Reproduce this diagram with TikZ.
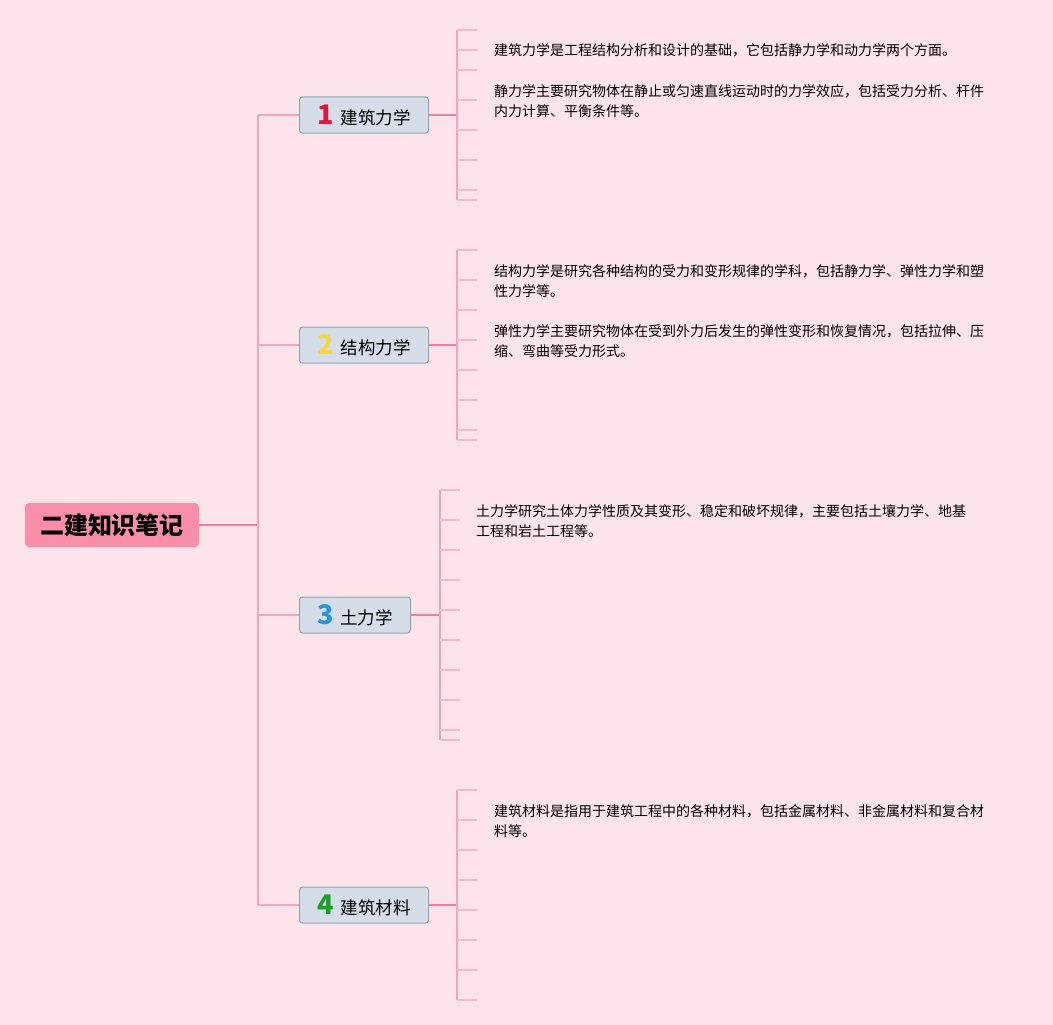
\documentclass[tikz,border=0pt]{standalone}
\usepackage{fontspec}
\setmainfont{Noto Sans CJK SC}
\usetikzlibrary{positioning}
\definecolor{bgpink}{HTML}{FDE4EB}
\definecolor{rootpink}{HTML}{F98EA8}
\definecolor{topicfill}{HTML}{D5DEE8}
\definecolor{topicedge}{HTML}{8FA8AA}
\definecolor{trunkpink}{HTML}{F4A6BD}
\definecolor{stempink}{HTML}{F27F9E}
\definecolor{barpink}{HTML}{F3A3BB}
\definecolor{tickpink}{HTML}{F6B8CA}
\definecolor{numred}{HTML}{E0163C}
\definecolor{numyellow}{HTML}{F6D44A}
\definecolor{numblue}{HTML}{2497DF}
\definecolor{numgreen}{HTML}{1E9C2C}

\newcommand{\topicnum}[2]{{\color{#1}\fontsize{27}{27}\selectfont\bfseries #2}\hspace{7pt}}

\tikzset{
  rootbox/.style={fill=rootpink, rounded corners=4pt, minimum width=174pt, minimum height=44pt, inner sep=0pt, font=\fontsize{24}{28}\selectfont\bfseries},
  topicbox/.style={draw=topicedge, line width=1pt, fill=topicfill, rounded corners=3pt, minimum height=36pt, inner xsep=0pt, inner ysep=0pt, anchor=west, font=\fontsize{17.5}{20}\selectfont},
  notetext/.style={anchor=west, inner sep=0pt, align=left, font=\fontsize{14}{20}\selectfont},
  trunk/.style={draw=trunkpink, line width=1.5pt},
  stem/.style={draw=stempink, line width=2pt},
  bracketbar/.style={draw=barpink, line width=1.6pt},
  brackettick/.style={draw=tickpink, line width=1.5pt},
}

\begin{document}
\begin{tikzpicture}[x=1pt, y=-1pt]
        \fill [bgpink] (0,0) rectangle (1053,1025);
        \useasboundingbox (0,0) rectangle (1053,1025);

        % root and topics
        \node [rootbox] (root) at (112,525) { 二建知识笔记 };
        \node [topicbox, minimum width=129pt] (t1) at (299,115) { \topicnum{numred}{1}建筑力学 };
        \node [topicbox, minimum width=129pt] (t2) at (299,345) { \topicnum{numyellow}{2}结构力学 };
        \node [topicbox, minimum width=111pt] (t3) at (299,615) { \topicnum{numblue}{3}土力学 };
        \node [topicbox, minimum width=129pt] (t4) at (299,905) { \topicnum{numgreen}{4}建筑材料 };

        % trunk
        \coordinate (jroot) at (258,525);
        \coordinate (j1) at (258,115);
        \coordinate (j2) at (258,345);
        \coordinate (j3) at (258,615);
        \coordinate (j4) at (258,905);
        \draw [stem, line width=1.6pt] (root.east) -- (jroot);
        \draw [trunk] (j1) -- (j4);
        \foreach \k in {1,...,4} { \draw [trunk] (j\k) -- (t\k.west); }

        % brackets
        \foreach \name/\bx/\ty/\top/\bot/\ys in {
            t1/457/115/30/200/{30,50,70,100,130,160,190,200},
            t2/457/345/250/440/{250,280,310,340,370,400,430,440},
            t3/440/615/490/740/{490,520,550,580,610,640,670,700,730,740},
            t4/457/905/790/1000/{790,820,850,880,910,940,970,1000}} {
            \coordinate (\name b) at (\bx,\ty);
            \coordinate (\name top) at (\bx,\top);
            \coordinate (\name bot) at (\bx,\bot);
            \draw [stem] (\name.east) -- (\name b);
            \draw [bracketbar] (\name top) -- (\name bot);
            \foreach \y in \ys {
                \coordinate (s) at (\bx,\y);
                \draw [brackettick] (s) -- ++(20,0);
            }
        }

        % notes
        \node [notetext] (n11) at (494,50) { 建筑力学是工程结构分析和设计的基础，它包括静力学和动力学两个方面。 };
        \node [notetext] (n12) at (494,101) { 静力学主要研究物体在静止或匀速直线运动时的力学效应，包括受力分析、杆件\\内力计算、平衡条件等。 };
        \node [notetext] (n21) at (494,281) { 结构力学是研究各种结构的受力和变形规律的学科，包括静力学、弹性力学和塑\\性力学等。 };
        \node [notetext] (n22) at (494,341) { 弹性力学主要研究物体在受到外力后发生的弹性变形和恢复情况，包括拉伸、压\\缩、弯曲等受力形式。 };
        \node [notetext] (n31) at (476,521) { 土力学研究土体力学性质及其变形、稳定和破坏规律，主要包括土壤力学、地基\\工程和岩土工程等。 };
        \node [notetext] (n41) at (494,821) { 建筑材料是指用于建筑工程中的各种材料，包括金属材料、非金属材料和复合材\\料等。 };
\end{tikzpicture}
\end{document}
